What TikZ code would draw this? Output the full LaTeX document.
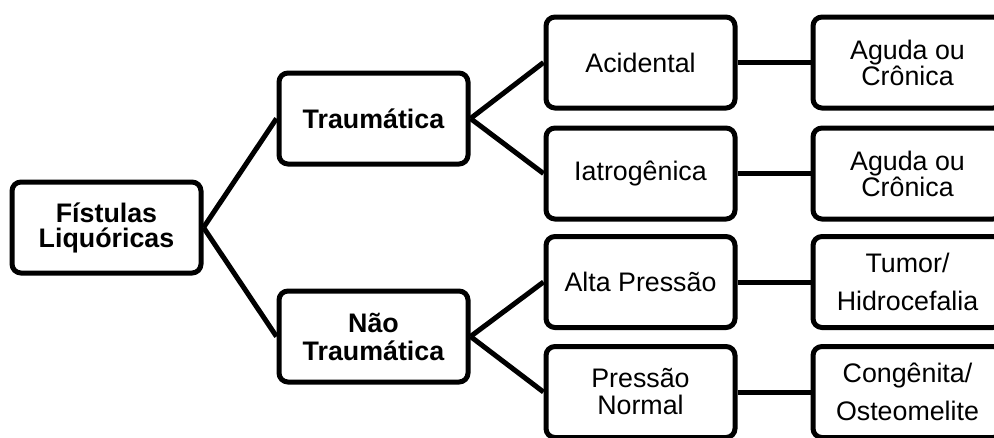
\documentclass[tikz,border=0pt]{standalone}
\usepackage{fontspec}
\setmainfont{Liberation Sans}
\begin{document}
\begin{tikzpicture}[x=1pt,y=-1pt,
  box/.style={draw=black, line width=5pt, rounded corners=9pt, fill=white,
    minimum width=189pt, minimum height=91pt, inner sep=0pt, align=center},
  bbox/.style={box, font=\bfseries\fontsize{26.8}{27}\selectfont},
  rbox/.style={box, font=\fontsize{26.8}{27}\selectfont},
  link/.style={draw=black, line width=5pt}]
\path[use as bounding box, clip] (0,0) rectangle (994,437);
% root
\node[bbox, font=\bfseries\fontsize{26.8}{25}\selectfont] (root) at (106.5,227.5) {Fístulas\\Liquóricas};
% level 1
\node[bbox] (trau) at (373.5,118.5) {Traumática};
\node[bbox, font=\bfseries\fontsize{26.8}{28}\selectfont] (nao) at (373.5,336.5) {Não\\Traumática};
% level 2
\node[rbox] (acid) at (640.5,62.5) {Acidental};
\node[rbox] (iatr) at (640.5,173.5) {Iatrogênica};
\node[rbox] (alta) at (640.5,282) {Alta Pressão};
\node[rbox, font=\fontsize{26.8}{27}\selectfont] (pnor) at (640.5,392) {Pressão\\Normal};
% level 3
\node[rbox, font=\fontsize{26.8}{24}\selectfont] (ag1) at (907.5,62.5) {Aguda ou\\Crônica};
\node[rbox, font=\fontsize{26.8}{24}\selectfont] (ag2) at (907.5,173.5) {Aguda ou\\Crônica};
\node[rbox, font=\fontsize{26.8}{38}\selectfont] (tum) at (907.5,282) {Tumor/\\Hidrocefalia};
\node[rbox, font=\fontsize{26.8}{38}\selectfont] (cong) at (907.5,392) {Congênita/\\Osteomelite};
% connectors
\draw[link] (root.east) -- (trau.west);
\draw[link] (root.east) -- (nao.west);
\draw[link] (trau.east) -- (acid.west);
\draw[link] (trau.east) -- (iatr.west);
\draw[link] (nao.east) -- (alta.west);
\draw[link] (nao.east) -- (pnor.west);
\draw[link] (acid.east) -- (ag1.west);
\draw[link] (iatr.east) -- (ag2.west);
\draw[link] (alta.east) -- (tum.west);
\draw[link] (pnor.east) -- (cong.west);
\end{tikzpicture}
\end{document}
